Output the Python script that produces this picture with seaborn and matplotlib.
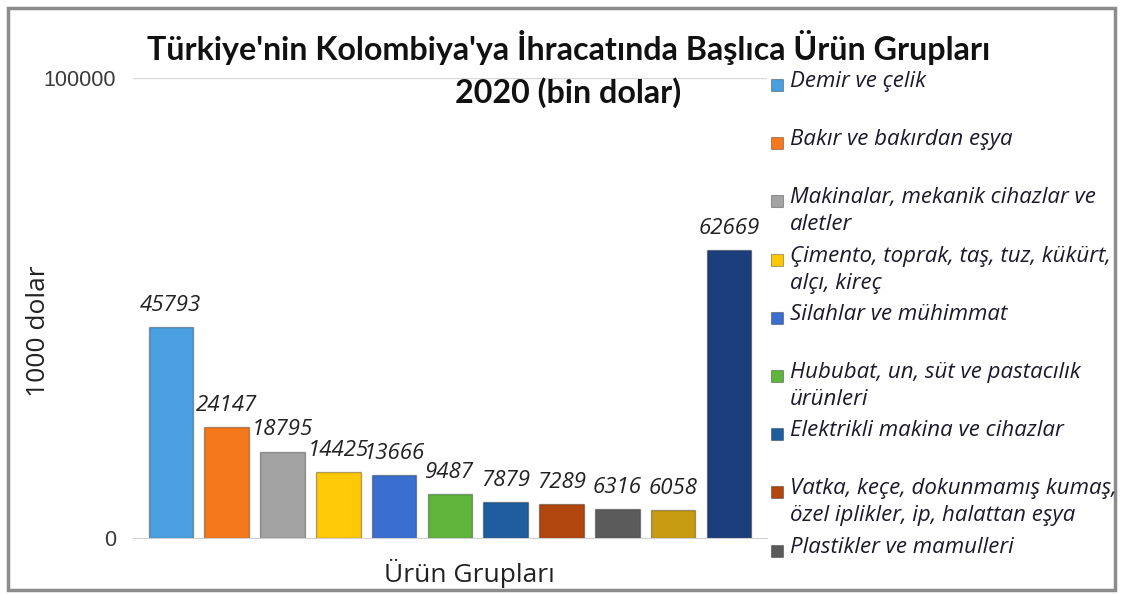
import matplotlib
matplotlib.use("Agg")
import matplotlib.pyplot as plt
import seaborn as sns
from matplotlib.patches import Rectangle

# Ürün grupları (legend only shows the first nine in the original)
legend_names = [
    "Demir ve çelik",
    "Bakır ve bakırdan eşya",
    "Makinalar, mekanik cihazlar ve\naletler",
    "Çimento, toprak, taş, tuz, kükürt,\nalçı, kireç",
    "Silahlar ve mühimmat",
    "Hububat, un, süt ve pastacılık\nürünleri",
    "Elektrikli makina ve cihazlar",
    "Vatka, keçe, dokunmamış kumaş,\nözel iplikler, ip, halattan eşya",
    "Plastikler ve mamulleri",
]
values = [45793, 24147, 18795, 14425, 13666, 9487, 7879, 7289, 6316, 6058, 62669]
colors = ["#4a9fe0", "#f5781c", "#a3a3a3", "#ffc908", "#3b6fcf", "#5fb43c",
          "#1f5d9e", "#b2460f", "#5b5b5b", "#c89c12", "#1d3e7c"]
groups = [str(i) for i in range(len(values))]

sns.set_style("white")
plt.rcParams["font.family"] = ["Open Sans", "DejaVu Sans"]

fig = plt.figure(figsize=(11.21, 5.95), dpi=100)
ax = fig.add_axes([0.1186, 0.0958, 0.5655, 0.7732])

sns.barplot(x=groups, y=values, hue=groups, palette=colors, legend=False,
            saturation=1, width=0.8, edgecolor="#00000050", linewidth=1, ax=ax)

for c in ax.containers:
    ax.bar_label(c, fmt="%d", padding=8, fontsize=16, fontstyle="italic",
                 color="#222222")

ax.set_ylim(0, 100000)
ax.set_xlim(-0.68, 10.68)
ax.set_yticks([0, 100000])
ax.set_yticklabels(["0", "100000"], fontsize=15.5, color="#3a3a3a",
                   family=["Liberation Sans", "DejaVu Sans"])
ax.tick_params(axis="y", length=0, pad=12)
ax.set_xticks([])
ax.axhline(100000, color="#d9d9d9", lw=1)
for s in ["left", "right", "top"]:
    ax.spines[s].set_visible(False)
ax.spines["bottom"].set_color("#d0d0d0")
ax.set_ylabel("1000 dolar", fontsize=19, color="#222222")
ax.yaxis.set_label_coords(-0.13, 0.45)
ax.set_xlabel("Ürün Grupları", fontsize=19, color="#222222")
ax.xaxis.set_label_coords(0.53, -0.045)

fig.text(0.507, 0.921, "Türkiye'nin Kolombiya'ya İhracatında Başlıca Ürün Grupları",
         ha="center", va="center", fontsize=23.2, fontweight="bold", color="#111111",
         family=["Lato", "DejaVu Sans"])
fig.text(0.507, 0.845, "2020 (bin dolar)", ha="center", va="center",
         fontsize=23.2, fontweight="bold", color="#111111",
         family=["Lato", "DejaVu Sans"])

# legend, drawn entry by entry to keep the fixed slot spacing
for i, name in enumerate(legend_names):
    ytop = 85 + i * 58.2
    fig.patches.append(Rectangle((771 / 1121, 1 - (ytop + 6) / 595), 12 / 1121, 12 / 595,
                                 transform=fig.transFigure, facecolor=colors[i],
                                 edgecolor="#00000050", lw=0.8))
    fig.text(790 / 1121, 1 - (ytop - 14) / 595, name, ha="left", va="top",
             fontsize=16, fontstyle="italic", color="#1a1a2a", linespacing=1.38)

# outer frame
fig.patches.append(Rectangle((8 / 1121, 5 / 595), 1107 / 1121, 582 / 595,
                             transform=fig.transFigure, fill=False,
                             edgecolor="#8c8c8c", lw=2.5))

fig.savefig("out.png", dpi=100)
